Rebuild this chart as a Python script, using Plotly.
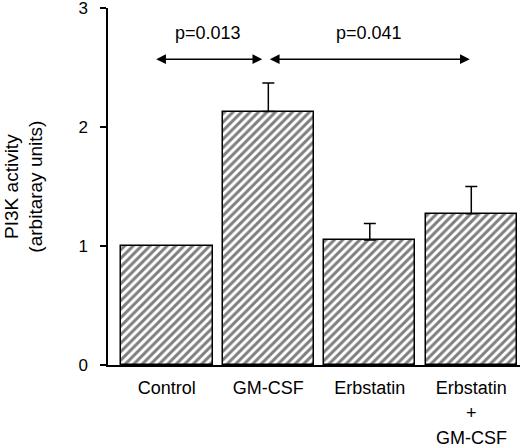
import plotly.graph_objects as go

groups = ["Control", "GM-CSF", "Erbstatin", "Erbstatin"]
activity = [1.0, 2.13, 1.05, 1.27]
sem = [0.0, 0.24, 0.14, 0.23]
p_labels = ["p=0.013", "p=0.041"]

FONT = "Liberation Sans, Arial, Helvetica, sans-serif"
FS = 18
xs = list(range(len(groups)))

fig = go.Figure()
fig.add_trace(go.Bar(
    x=xs, y=activity, width=0.9,
    marker=dict(color="white", line=dict(color="black", width=1.5),
                pattern=dict(shape="/", size=6, solidity=0.5, fgcolor="black", bgcolor="white")),
    showlegend=False, hoverinfo="skip",
))
# one-sided error bars, only for treated groups
err_x = [x for x, e in zip(xs, sem) if e > 0]
err_y = [y for y, e in zip(activity, sem) if e > 0]
err_v = [e for e in sem if e > 0]
fig.add_trace(go.Scatter(
    x=err_x, y=err_y, mode="markers", marker=dict(size=1, opacity=0),
    error_y=dict(type="data", symmetric=False, array=err_v, arrayminus=[0] * len(err_v),
                 color="black", thickness=1.5, width=6),
    showlegend=False, hoverinfo="skip",
))

# significance arrows (double headed)
arrows = [(-0.12, 0.94), (1.0, 2.985)]
for (x0, x1), lab in zip(arrows, p_labels):
    fig.add_annotation(x=x1, y=2.57, ax=x0, ay=2.57, xref="x", yref="y", axref="x", ayref="y",
                       text="", showarrow=True, arrowhead=2, startarrowhead=2, arrowside="end+start",
                       arrowsize=1.3, arrowwidth=1.5, arrowcolor="black")
    fig.add_annotation(x=(x0 + x1) / 2, y=2.79, text=lab, showarrow=False,
                       font=dict(size=FS, color="black"))

# extra lines under the last category label
fig.add_annotation(x=3, xref="x", y=0, yref="paper", yanchor="middle", yshift=-48, text="+",
                   showarrow=False, font=dict(size=FS, color="black"))
fig.add_annotation(x=3, xref="x", y=0, yref="paper", yanchor="middle", yshift=-73, text="GM-CSF",
                   showarrow=False, font=dict(size=FS, color="black"))

# y axis title
fig.add_annotation(x=-0.206, xref="paper", y=0.5, yref="paper", xanchor="center", yanchor="middle",
                   text="PI3K activity<br>(arbitaray units)", textangle=-90, showarrow=False,
                   font=dict(size=19, color="black"))

fig.update_layout(
    width=520, height=447,
    margin=dict(l=108, r=0, t=8, b=82, autoexpand=False),
    paper_bgcolor="white", plot_bgcolor="white",
    font=dict(family=FONT, size=FS, color="black"),
    xaxis=dict(range=[-0.58, 3.48], tickvals=xs, ticktext=groups, showline=True,
               linecolor="black", linewidth=1.5, ticks="", showgrid=False, zeroline=False,
               ticklabelstandoff=6, automargin=False),
    yaxis=dict(range=[0, 3], tickvals=[0, 1, 2, 3], showline=True, linecolor="black",
               linewidth=1.5, ticks="outside", ticklen=6, tickwidth=1.5, tickcolor="black",
               showgrid=False, zeroline=False, ticklabelstandoff=9, ticklabeloverflow="allow",
               tickfont=dict(size=17), automargin=False),
    bargap=0,
)

fig.write_html("out.html", config={"displayModeBar": False},
               post_script="document.body.style.margin = '0px';")
